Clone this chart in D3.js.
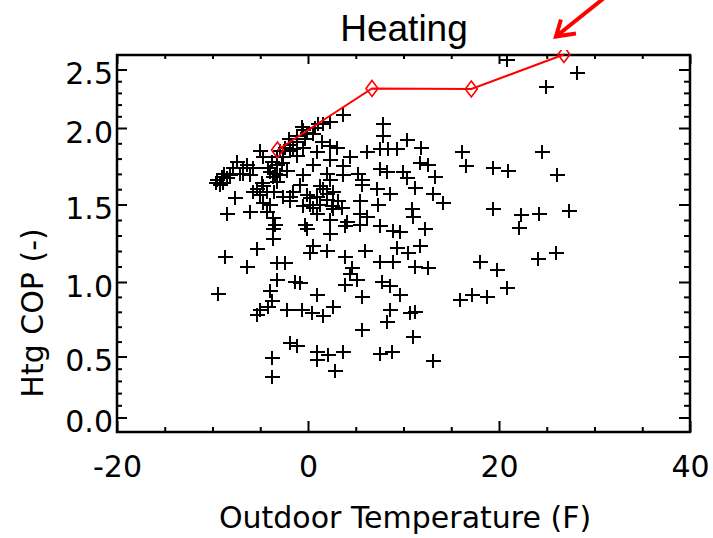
<!DOCTYPE html>
<html><head><meta charset="utf-8">
<script src="https://cdn.jsdelivr.net/npm/d3@7"></script>
<style>body{margin:0;background:#fff}svg{display:block}</style>
</head><body>
<svg id="chart" width="713" height="538"></svg>
<script>
// Scatter: outdoor temperature (F) vs heating COP (-)
const tempF = [
 3.66, 2.30, 1.57, 0.73, -0.52, -1.15, -0.66, -0.14, -1.18, -1.88, -2.41, -2.93,
 7.85, 7.85, 10.34, 1.43, 2.30, 3.01, -0.49, -1.54, 0.91, 6.15, 7.54, 8.41, 9.29,
 4.40, 2.30, 11.80, -3.28, -2.59, -1.88, -5.03, -4.68, -3.80, -3.28, -2.75,
 -7.47, -6.42, -5.73, -6.77, -7.82, -7.12, -6.07, -9.04, -9.56, -9.21, -8.51, -8.17,
 -3.98, -3.63, -3.28, -2.93, -0.49, -0.84, -4.68, -5.37, -4.32, -5.03, -7.64,
 -6.07, -8.51, -3.98, -4.32, -2.59, -1.88, -0.14, -8.90, 0.91, 1.26, 0.55,
 1.96, 2.30, 1.96, 2.48, 2.30, 2.30, 3.70, 4.05, 0.55, 7.54, 8.24, 9.98, 10.34,
 3.70, 5.27, 5.62, -1.54, 1.60, 2.65, 7.19, 8.59, 0.21, 1.96, 3.17, 1.26, 5.45,
 7.36, -0.49, 2.65, 3.53, 0.91, 5.45, 6.15, 10.86, 11.03, 11.73, 12.57, 13.30,
 11.20, 13.12, 14.17, 5.62, 12.25, 8.93, 9.63, 7.54, 5.45, -0.31,
 16.16, 16.51, 19.34, 20.91, 24.47, 26.10, 19.37, 22.30, 24.22, 27.36, 22.09,
 20.84, 24.97, 28.17,
 -3.63, -3.46, -3.63, -3.63, -4.68, -1.88, 0.21, -0.14, 0.55, 0.21, -5.37, -8.69,
 -6.42, -3.28, -2.41, -3.28, -1.36, -0.84, -9.39, -3.98, -3.80, -4.16, -5.03,
 -5.37, -2.23, -0.66, 0.39, 0.91, 1.96, 3.87, 3.87, 1.60, 2.65, 3.87,
 5.97, 7.54, 8.93, 9.29, 10.50, 11.73, 11.20, 12.60, 4.58, 4.40, 5.10, 7.72,
 8.59, 9.63, 5.62, 18.01, 19.76, 24.12, 25.97, 20.81, 15.92, 17.14, 18.71,
 8.59, 8.24, 10.68, 11.20, 5.62, 11.03, -1.88, -1.18, -3.80, -3.80, 0.91, 0.91,
 2.13, 3.70, 2.83, 7.54, 8.76, 13.12,
 -4.2, -3.5, -2.2, -4.8, -3.6, -5.8, -8.8, -9.6, -6.8, -1.2, -0.3, 0.5, 1.0, -2.0
];
const cop = [
 2.11, 2.05, 2.03, 2.00, 1.99, 1.95, 2.01, 1.97, 1.91, 1.89, 1.87, 1.85,
 2.03, 1.95, 1.92, 1.91, 1.88, 1.87, 1.87, 1.86, 1.84, 1.84, 1.86, 1.86, 1.86,
 1.81, 1.79, 1.87, 1.81, 1.81, 1.85, 1.85, 1.81, 1.78, 1.76, 1.77,
 1.78, 1.76, 1.74, 1.74, 1.74, 1.70, 1.69, 1.68, 1.66, 1.63, 1.67, 1.69,
 1.71, 1.68, 1.65, 1.69, 1.69, 1.63, 1.62, 1.60, 1.58, 1.56, 1.54,
 1.45, 1.44, 1.50, 1.45, 1.55, 1.55, 1.56, 1.64, 1.55, 1.62, 1.48,
 1.70, 1.66, 1.57, 1.49, 1.40, 1.31, 1.75, 1.39, 1.76, 1.73, 1.71, 1.71, 1.67,
 1.69, 1.70, 1.66, 1.58, 1.60, 1.58, 1.60, 1.57, 1.54, 1.53, 1.52, 1.50, 1.52,
 1.50, 1.49, 1.47, 1.48, 1.44, 1.44, 1.42, 1.47, 1.42, 1.77, 1.76, 1.68,
 1.61, 1.57, 1.51, 1.63, 1.34, 1.33, 1.32, 1.36, 1.37, 1.37,
 1.84, 1.75, 1.74, 1.72, 1.84, 1.69, 1.47, 1.43, 1.44, 1.46, 1.35,
 2.58, 2.35, 2.47,
 1.41, 1.37, 1.34, 1.28, 1.51, 1.52, 1.50, 1.34, 1.23, 1.19, 1.21, 1.16,
 1.10, 1.12, 1.12, 1.01, 1.00, 0.99, 0.92, 0.94, 0.87, 0.83, 0.81,
 0.78, 0.81, 0.81, 0.79, 0.91, 1.20, 1.16, 1.36, 0.77, 0.83, 0.98,
 1.20, 1.13, 1.13, 1.22, 1.19, 1.23, 1.10, 1.09, 1.09, 1.05, 1.01, 1.00,
 0.97, 0.91, 0.90, 1.13, 1.08, 1.15, 1.19, 0.96, 0.88, 0.91, 0.90,
 0.81, 0.73, 0.79, 0.80, 0.68, 0.63, 0.59, 0.57, 0.49, 0.33, 0.53, 0.47,
 0.51, 0.53, 0.38, 0.52, 0.53, 0.46,
 1.74, 1.70, 1.72, 1.64, 1.58, 1.58, 1.70, 1.64, 1.70, 1.82, 1.93, 1.96, 2.03, 1.93
];
// Red performance curve
const curveTemp = [-3.2, 6.7, 17.1, 26.8];
const curveCop = [1.856, 2.338, 2.333, 2.624];

const xTicks = [-20, 0, 20, 40];
const xMinorTicks = [-15, -10, -5, 5, 10, 15, 25, 30, 35];
const yTicks = [0, 0.5, 1, 1.5, 2, 2.5];
const yMinorTicks = [0.1,0.2,0.3,0.4,0.6,0.7,0.8,0.9,1.1,1.2,1.3,1.4,1.6,1.7,1.8,1.9,2.1,2.2,2.3,2.4];

const L = 117, R = 690, T = 55, B = 432;
const svg = d3.select("#chart");

const x = d3.scaleLinear().domain([-20, 40]).range([L, R]);
// axis as printed in the source figure (tick spacing is not uniform)
const y = d3.scaleLinear()
  .domain([-0.12, 0, 0.5, 1, 1.5, 2, 2.5, 2.62])
  .range([B, 417.5, 356.5, 282, 204.5, 128, 69.5, T]);

const tickFont = "'DejaVu Sans', sans-serif";

function styleAxis(g) {
  g.select(".domain").remove();
  g.selectAll(".tick line").attr("stroke", "#000").attr("stroke-width", 2);
  g.selectAll("text").attr("fill", "#000").style("font-family", tickFont).style("font-size", "30px");
}

// bottom
svg.append("g").attr("transform", `translate(0,${B})`)
  .call(d3.axisBottom(x).tickValues(xTicks).tickSizeInner(-11).tickSizeOuter(0).tickPadding(24).tickFormat(d => String(d)))
  .call(styleAxis);
svg.append("g").attr("transform", `translate(0,${B})`)
  .call(d3.axisBottom(x).tickValues(xMinorTicks).tickSizeInner(-5).tickSizeOuter(0).tickFormat(""))
  .call(styleAxis);
// top
svg.append("g").attr("transform", `translate(0,${T})`)
  .call(d3.axisTop(x).tickValues(xTicks).tickSizeInner(-9).tickSizeOuter(0).tickFormat(""))
  .call(styleAxis);
svg.append("g").attr("transform", `translate(0,${T})`)
  .call(d3.axisTop(x).tickValues(xMinorTicks).tickSizeInner(-4).tickSizeOuter(0).tickFormat(""))
  .call(styleAxis);
// left
const gl = svg.append("g").attr("transform", `translate(${L},0)`)
  .call(d3.axisLeft(y).tickValues(yTicks).tickSizeInner(-10).tickSizeOuter(0).tickPadding(4).tickFormat(d3.format(".1f")))
  .call(styleAxis);
gl.selectAll("text").attr("dy", 14);
svg.append("g").attr("transform", `translate(${L},0)`)
  .call(d3.axisLeft(y).tickValues(yMinorTicks).tickSizeInner(-5).tickSizeOuter(0).tickFormat(""))
  .call(styleAxis);
// right
svg.append("g").attr("transform", `translate(${R},0)`)
  .call(d3.axisRight(y).tickValues(yTicks).tickSizeInner(-11).tickSizeOuter(0).tickFormat(""))
  .call(styleAxis);
svg.append("g").attr("transform", `translate(${R},0)`)
  .call(d3.axisRight(y).tickValues(yMinorTicks).tickSizeInner(-6).tickSizeOuter(0).tickFormat(""))
  .call(styleAxis);

// frame
svg.append("rect").attr("x", L).attr("y", T).attr("width", R - L).attr("height", B - T)
  .attr("fill", "none").attr("stroke", "#000").attr("stroke-width", 2.5);

// clip
svg.append("defs").append("clipPath").attr("id", "clip")
  .append("rect").attr("x", L).attr("y", T).attr("width", R - L).attr("height", B - T);
svg.append("defs").append("clipPath").attr("id", "clipRed")
  .append("rect").attr("x", L).attr("y", 50).attr("width", R - L).attr("height", B - 50);

// crosses
const pts = tempF.map((t, i) => ({t, c: cop[i]}));
svg.append("g").attr("clip-path", "url(#clip)")
  .selectAll("path").data(pts).join("path")
  .attr("transform", d => `translate(${Math.round(x(d.t))},${Math.round(y(d.c))})`)
  .attr("d", "M-7.5,0H7.5M0,-7V7")
  .attr("stroke", "#000").attr("stroke-width", 2).attr("fill", "none")
  .attr("shape-rendering", "crispEdges");

// red curve
const curve = curveTemp.map((t, i) => ({t, c: curveCop[i]}));
const gr = svg.append("g").attr("clip-path", "url(#clipRed)");
gr.append("path").datum(curve)
  .attr("d", d3.line().x(d => x(d.t)).y(d => y(d.c)))
  .attr("fill", "none").attr("stroke", "#ff0000").attr("stroke-width", 2);
gr.selectAll(".dm").data(curve).join("path").attr("class", "dm")
  .attr("transform", d => `translate(${x(d.t)},${y(d.c)})`)
  .attr("d", "M0,-8L6,0L0,8L-6,0Z")
  .attr("fill", "none").attr("stroke", "#ff0000").attr("stroke-width", 1.6);

// annotation arrow pointing at last curve point
const last = curve[curve.length - 1];
const tipX = x(last.t) - 8, tipY = y(last.c) - 18;
svg.append("path")
  .attr("d", `M${tipX + 50},${tipY - 40}L${tipX},${tipY}M${tipX + 5},${tipY - 17}L${tipX},${tipY}L${tipX + 20},${tipY - 3}`)
  .attr("fill", "none").attr("stroke", "#ff0000").attr("stroke-width", 4)
  .attr("stroke-linejoin", "miter").attr("stroke-linecap", "butt");

// titles
svg.append("text").attr("x", 404).attr("y", 41).attr("text-anchor", "middle")
  .style("font-family", "'Liberation Sans', Arial, sans-serif").style("font-size", "37px")
  .text("Heating");
svg.append("text").attr("x", 405).attr("y", 528).attr("text-anchor", "middle")
  .style("font-family", tickFont).style("font-size", "30px")
  .text("Outdoor Temperature (F)");
svg.append("text").attr("transform", "translate(43,313) rotate(-90)").attr("text-anchor", "middle")
  .style("font-family", tickFont).style("font-size", "30px")
  .text("Htg COP (-)");
</script>
</body></html>
